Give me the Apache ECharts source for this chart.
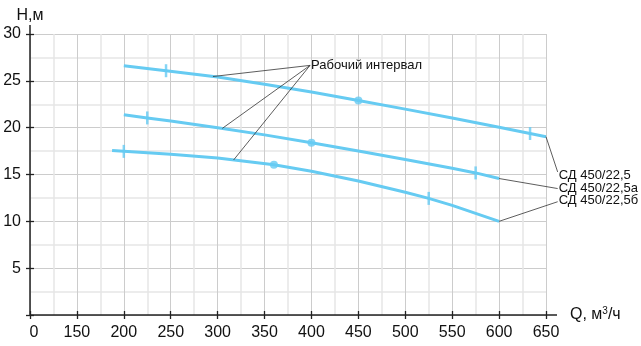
<!DOCTYPE html>
<html>
<head>
<meta charset="utf-8">
<script src="https://cdn.jsdelivr.net/npm/echarts@6/dist/echarts.min.js"></script>
<style>
html,body{margin:0;padding:0;background:#fff;}
#c{width:641px;height:346px;}
</style>
</head>
<body>
<div id="c"></div>
<script>
// ---- data (Q in m3/h, H in m) ----
const qA = [200, 245, 300, 350, 400, 450, 500, 550, 600, 633, 650];
const hA = [26.6, 26.08, 25.4, 24.63, 23.8, 22.9, 21.98, 21.03, 20.05, 19.38, 19.03];
const qB = [200, 225, 250, 300, 350, 400, 450, 500, 550, 575, 600];
const hB = [21.38, 21.04, 20.7, 20.0, 19.23, 18.38, 17.5, 16.6, 15.67, 15.17, 14.57];
const qC = [187.5, 200, 250, 300, 360, 400, 450, 500, 525, 550, 600];
const hC = [17.55, 17.47, 17.15, 16.75, 16.04, 15.35, 14.3, 13.1, 12.45, 11.7, 10.0];

const seriesNames = ['СД 450/22,5', 'СД 450/22,5а', 'СД 450/22,5б'];
const tickQA = [245, 633];
const tickQB = [225, 575];
const tickQC = [200, 525];
const dotQA = [450];
const dotQB = [400];
const dotQC = [360];

const xTickValues = [100, 150, 200, 250, 300, 350, 400, 450, 500, 550, 600, 650];
const xTickLabels = ['0', '150', '200', '250', '300', '350', '400', '450', '500', '550', '600', '650'];
const yTickValues = [0, 5, 10, 15, 20, 25, 30];
const yTickLabels = ['', '5', '10', '15', '20', '25', '30'];

const workLabel = 'Рабочий интервал';
const workTargetQ = [295, 305, 317];

// ---- helpers ----
const curves = [[qA, hA], [qB, hB], [qC, hC]];
const ticksQ = [tickQA, tickQB, tickQC];
const dotsQ = [dotQA, dotQB, dotQC];
function pairs(q, h) { return q.map((x, i) => [x, h[i]]); }
function hAt(ci, x) {
  const q = curves[ci][0], h = curves[ci][1];
  for (let i = 0; i < q.length - 1; i++) {
    if (x >= q[i] && x <= q[i + 1]) {
      const t = (x - q[i]) / (q[i + 1] - q[i]);
      return h[i] + t * (h[i + 1] - h[i]);
    }
  }
  return h[h.length - 1];
}

const FONT = 'Liberation Sans, Arial, sans-serif';
const LINE = '#66cbf2';
const chart = echarts.init(document.getElementById('c'), null, {renderer: 'canvas'});

const series = [];
curves.forEach((c, i) => {
  series.push({
    name: seriesNames[i], type: 'line', smooth: false,
    symbol: 'none', data: pairs(c[0], c[1]),
    lineStyle: {color: LINE, width: 3, join: 'round'}, z: 3, silent: true
  });
});
curves.forEach((c, i) => {
  series.push({
    type: 'scatter', symbol: 'rect', symbolSize: [2.5, 13],
    data: ticksQ[i].map(x => [x, c[1][c[0].indexOf(x)]]),
    itemStyle: {color: LINE}, z: 4, silent: true
  });
  series.push({
    type: 'scatter', symbol: 'circle', symbolSize: 8,
    data: dotsQ[i].map(x => [x, c[1][c[0].indexOf(x)]]),
    itemStyle: {color: LINE}, z: 4, silent: true
  });
});

const axisTextColor = '#111';
const xBase = {
  type: 'value', min: 100, max: 650, interval: 50, gridIndex: 0, position: 'bottom',
  axisLine: {show: false}
};
const yBase = {
  type: 'value', min: 0, max: 30, interval: 5, gridIndex: 0, position: 'left',
  axisLine: {show: false}
};

chart.setOption({
  animation: false,
  grid: {left: 30, right: 95, top: 34, bottom: 31, containLabel: false},
  xAxis: [
    Object.assign({}, xBase, {
      name: 'Q, м{s|3}/ч', nameLocation: 'end', nameGap: 24,
      nameTextStyle: {fontFamily: FONT, fontSize: 16, color: axisTextColor,
        rich: {s: {fontFamily: FONT, fontSize: 10, color: axisTextColor, verticalAlign: 'top', padding: [0, 0, 8, 0]}}},
      axisTick: {show: true, inside: false, length: 4, lineStyle: {color: '#222', width: 1.3}},
      axisLabel: {show: true, margin: 10, fontFamily: FONT, fontSize: 16, color: axisTextColor,
        formatter: v => {
          const k = xTickValues.indexOf(v);
          const s = k >= 0 ? xTickLabels[k] : '';
          return v === 100 ? '{z|' + s + '}' : s;
        },
        rich: {z: {fontFamily: FONT, fontSize: 16, color: axisTextColor, padding: [0, 0, 2, 8]}}},
      splitLine: {show: true, lineStyle: {color: '#cccccc', width: 1}},
      minorTick: {show: false, splitNumber: 2},
      minorSplitLine: {show: true, lineStyle: {color: '#e6e6e6', width: 1.5}}
    }),
    Object.assign({}, xBase, {
      axisTick: {show: true, inside: true, length: 4, lineStyle: {color: '#222', width: 1.3}},
      axisLabel: {show: false}, splitLine: {show: false}
    })
  ],
  yAxis: [
    Object.assign({}, yBase, {
      name: 'H,м', nameLocation: 'end', nameGap: 10,
      nameTextStyle: {fontFamily: FONT, fontSize: 16, color: axisTextColor},
      axisTick: {show: true, inside: false, length: 4, lineStyle: {color: '#222', width: 1.3}},
      axisLabel: {show: true, margin: 9, fontFamily: FONT, fontSize: 16, color: axisTextColor,
        formatter: v => {
          const k = yTickValues.indexOf(v);
          return k >= 0 ? yTickLabels[k] : '';
        }},
      splitLine: {show: true, lineStyle: {color: '#cccccc', width: 1}},
      minorTick: {show: false, splitNumber: 2},
      minorSplitLine: {show: true, lineStyle: {color: '#e6e6e6', width: 1.5}}
    }),
    Object.assign({}, yBase, {
      axisTick: {show: true, inside: true, length: 4, lineStyle: {color: '#222', width: 1.3}},
      axisLabel: {show: false}, splitLine: {show: false}
    })
  ],
  series: series
});

// ---- axes lines & annotations (computed through the chart's scales) ----
function px(x, y) { return chart.convertToPixel({xAxisIndex: 0, yAxisIndex: 0}, [x, y]); }
const o = px(100, 0), xe = px(650, 0), ye = px(100, 30);
const g = [];
g.push({type: 'line', shape: {x1: o[0], y1: o[1], x2: xe[0] + 11, y2: o[1]}, style: {stroke: '#222', lineWidth: 1.5}, z: 10});
g.push({type: 'line', shape: {x1: o[0], y1: o[1], x2: o[0], y2: ye[1] - 9}, style: {stroke: '#222', lineWidth: 1.5}, z: 10});

// working-interval leader lines
const hub = px(398.5, 26.65);
workTargetQ.forEach((q, i) => {
  const p = px(q, hAt(i, q));
  g.push({type: 'line', shape: {x1: hub[0], y1: hub[1], x2: p[0], y2: p[1]}, style: {stroke: '#333', lineWidth: 0.8}, z: 5});
});
g.push({type: 'text', x: hub[0] + 1, y: hub[1], style: {text: workLabel, font: '13px ' + FONT, fill: '#111', textVerticalAlign: 'middle', textAlign: 'left'}, z: 6});

// series name labels with leaders
const labelH = [14.95, 13.5, 12.2];
const leaderDy = [-3, 0, 1];
curves.forEach((c, i) => {
  const q = c[0], h = c[1];
  const end = px(q[q.length - 1], h[h.length - 1]);
  const lp = px(663.5, labelH[i]);
  g.push({type: 'line', shape: {x1: end[0], y1: end[1], x2: lp[0] - 1, y2: lp[1] + leaderDy[i]}, style: {stroke: '#333', lineWidth: 0.8}, z: 5});
  g.push({type: 'text', x: lp[0], y: lp[1], style: {text: seriesNames[i], font: '13px ' + FONT, fill: '#111', textVerticalAlign: 'middle', textAlign: 'left'}, z: 6});
});
chart.setOption({graphic: g});
</script>
</body>
</html>
